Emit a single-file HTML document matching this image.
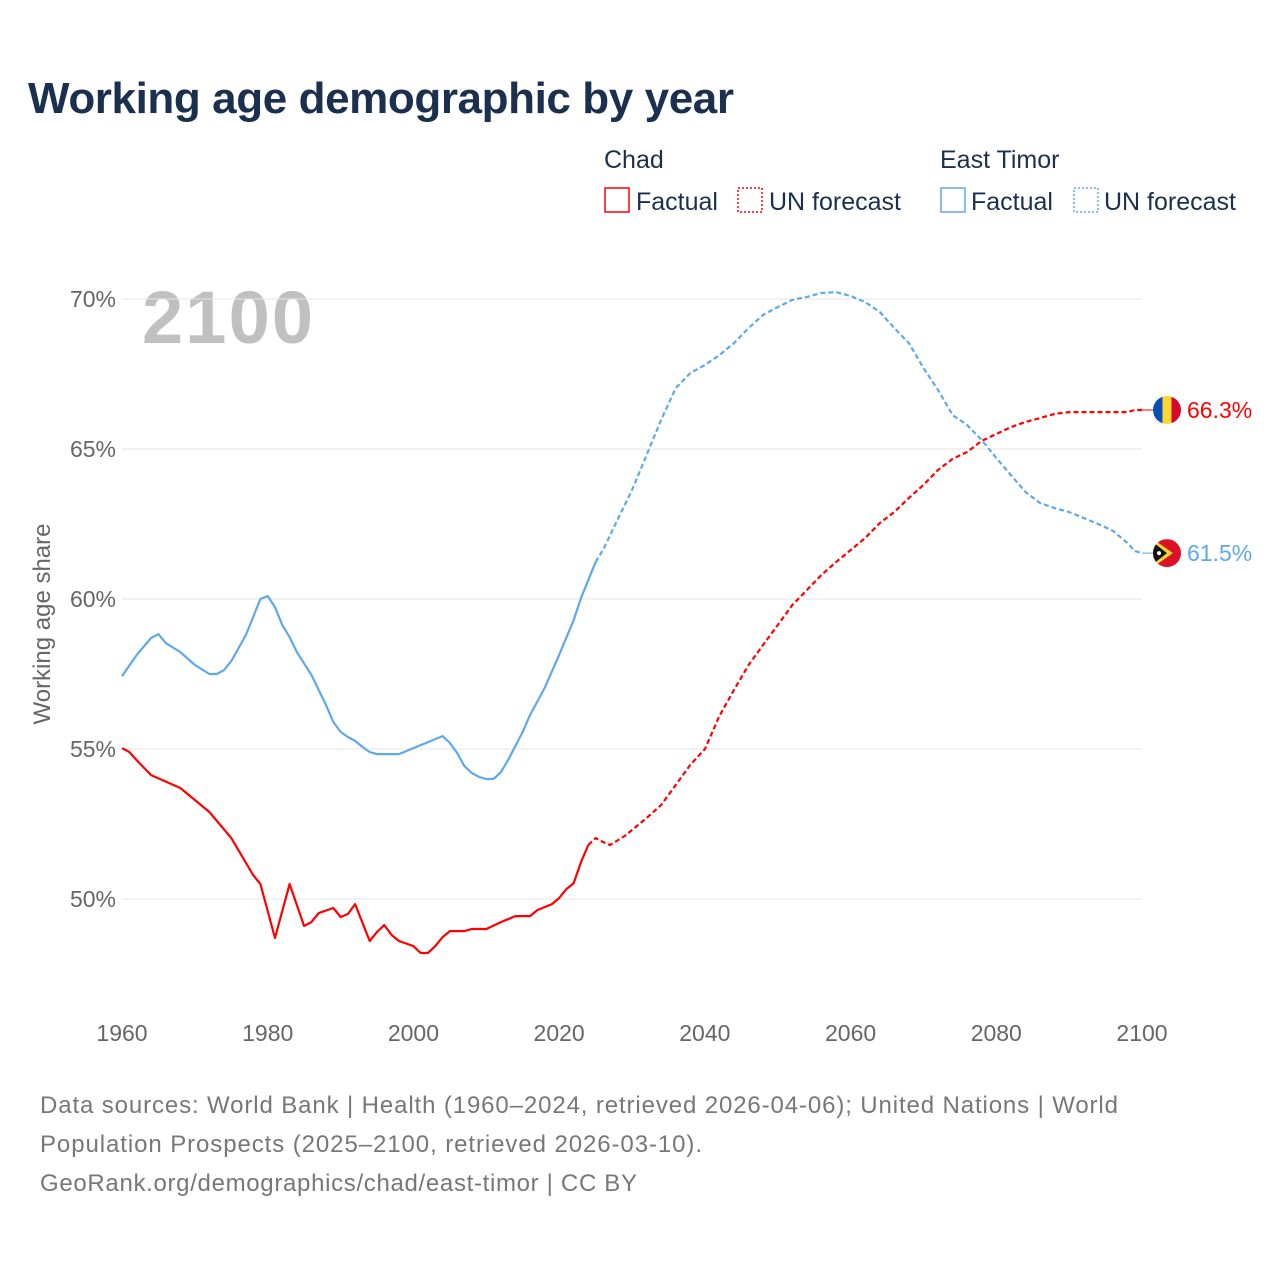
<!DOCTYPE html>
<html><head><meta charset="utf-8"><style>
body{margin:0;background:#fff;font-family:"Liberation Sans",sans-serif;}
svg{display:block}
</style></head><body>
<svg id="chart" width="1280" height="1280" viewBox="0 0 1280 1280">
<defs>
<clipPath id="cf"><circle cx="1167" cy="410" r="14"/></clipPath>
<clipPath id="tf"><circle cx="1167" cy="554" r="14"/></clipPath>
</defs>
<text x="28" y="113" font-size="44" font-weight="bold" fill="#1b2f4e" textLength="706">Working age demographic by year</text>
<g font-size="25" fill="#1b2f4e">
<text x="604" y="168">Chad</text>
<rect x="605" y="188" width="24" height="24" fill="none" stroke="#f00" stroke-width="1.5"/>
<text x="636" y="210">Factual</text>
<rect x="738" y="188" width="24" height="24" fill="none" stroke="#f00" stroke-width="1.5" stroke-dasharray="2,2"/>
<text x="769" y="210">UN forecast</text>
<text x="940" y="168">East Timor</text>
<rect x="941" y="188" width="24" height="24" fill="none" stroke="#5ea8ec" stroke-width="1.5"/>
<text x="971" y="210">Factual</text>
<rect x="1074" y="188" width="24" height="24" fill="none" stroke="#5ea8ec" stroke-width="1.5" stroke-dasharray="2,2"/>
<text x="1104" y="210">UN forecast</text>
</g>
<text x="142" y="343" font-size="74" font-weight="bold" fill="#c0c0c0" textLength="171">2100</text>
<text transform="translate(50,624) rotate(-90)" text-anchor="middle" font-size="24" fill="#666">Working age share</text>
<g id="grid"></g><g id="lines"></g>
<g font-size="24" fill="#777">
<text x="40" y="1113" textLength="1078">Data sources: World Bank | Health (1960–2024, retrieved 2026-04-06); United Nations | World</text>
<text x="40" y="1152" textLength="662">Population Prospects (2025–2100, retrieved 2026-03-10).</text>
<text x="40" y="1191" textLength="597">GeoRank.org/demographics/chad/east-timor | CC BY</text>
</g>
</svg>
<script>
const yTicks=[50,55,60,65,70];
const xTicks=[1960,1980,2000,2020,2040,2060,2080,2100];
const chadFactYears=[1960,1961,1962,1964,1968,1972,1975,1978,1979,1981,1983,1985,1986,1987,1989,1990,1991,1992,1994,1995,1996,1997,1998,2000,2001,2002,2003,2004,2005,2007,2008,2010,2012,2014,2016,2017,2019,2020,2021,2022,2023,2024];
const chadFactVals=[55.03,54.9,54.63,54.13,53.7,52.9,52.03,50.8,50.5,48.7,50.5,49.1,49.23,49.53,49.7,49.4,49.5,49.83,48.6,48.9,49.13,48.8,48.6,48.43,48.2,48.2,48.43,48.73,48.93,48.93,49.0,49.0,49.23,49.43,49.43,49.63,49.83,50.03,50.33,50.53,51.23,51.8];
const chadFcYears=[2024,2025,2026,2027,2028,2029,2030,2032,2034,2036,2038,2040,2042,2044,2046,2048,2050,2052,2054,2056,2058,2060,2062,2064,2066,2068,2070,2072,2074,2076,2078,2080,2082,2084,2086,2088,2090,2095,2098,2099,2100];
const chadFcVals=[51.8,52.03,51.9,51.8,51.95,52.1,52.3,52.7,53.13,53.8,54.47,55.0,56.1,56.97,57.8,58.47,59.13,59.8,60.3,60.8,61.23,61.63,62.03,62.53,62.9,63.37,63.8,64.3,64.67,64.9,65.27,65.5,65.73,65.9,66.03,66.17,66.23,66.23,66.23,66.3,66.3];
const timorFactYears=[1960,1962,1964,1965,1966,1968,1970,1972,1973,1974,1975,1977,1979,1980,1981,1982,1983,1984,1986,1988,1989,1990,1991,1992,1993,1994,1995,1998,2000,2004,2005,2006,2007,2008,2009,2010,2011,2012,2013,2015,2016,2018,2020,2022,2023,2024,2025];
const timorFactVals=[57.43,58.13,58.7,58.83,58.53,58.23,57.8,57.5,57.5,57.63,57.93,58.8,60.0,60.1,59.73,59.13,58.73,58.23,57.47,56.47,55.9,55.57,55.4,55.27,55.07,54.9,54.83,54.83,55.03,55.43,55.2,54.87,54.43,54.2,54.07,54.0,54.0,54.23,54.63,55.57,56.13,57.03,58.13,59.3,60.03,60.63,61.23];
const timorFcYears=[2025,2026,2028,2030,2032,2034,2036,2038,2040,2042,2044,2046,2048,2050,2052,2054,2056,2058,2060,2062,2064,2066,2068,2070,2072,2074,2076,2078,2080,2082,2084,2086,2088,2090,2092,2094,2096,2098,2099,2100];
const timorFcVals=[61.23,61.63,62.63,63.63,64.8,65.97,67.03,67.53,67.8,68.13,68.53,69.03,69.47,69.73,69.97,70.07,70.2,70.23,70.1,69.9,69.57,69.03,68.53,67.7,66.97,66.13,65.8,65.3,64.7,64.13,63.57,63.2,63.03,62.9,62.7,62.5,62.27,61.87,61.6,61.53];

const NS='http://www.w3.org/2000/svg';
const X=y=>122+(y-1960)*(1020/140);
const Y=v=>299+(70-v)*30;
function mk(tag,attrs,parent){const e=document.createElementNS(NS,tag);for(const k in attrs)e.setAttribute(k,attrs[k]);parent.appendChild(e);return e;}
const grid=document.getElementById('grid'),lines=document.getElementById('lines');
yTicks.forEach(v=>{
  const l=mk('line',{x1:122,x2:1142,y1:Y(v),y2:Y(v),stroke:'#e6e6e6','stroke-width':1},grid);
  
  
  const t=mk('text',{x:116,y:Y(v)+8,'text-anchor':'end','font-size':23,fill:'#666'},grid);
  t.textContent=v+'%';
  
  
});
xTicks.forEach(v=>{
  const t=mk('text',{x:X(v),y:1041,'text-anchor':'middle','font-size':23,fill:'#666'},grid);
  t.textContent=v;
  
  
});
function line(ys,vs,color,dash,name){
  const d=ys.map((y,i)=>(i?'L':'M')+X(y).toFixed(1)+','+Y(vs[i]).toFixed(1)).join('');
  const p=mk('path',{d:d,fill:'none',stroke:color,'stroke-width':2.2,'stroke-linejoin':'round'},lines);
  if(dash)p.setAttribute('stroke-dasharray','5,3');
  
  
}
line(chadFactYears,chadFactVals,'#ff0000',false,'chad-factual-line');
line(chadFcYears,chadFcVals,'#ff0000',true,'chad-forecast-line');
line(timorFactYears,timorFactVals,'#5ea8ec',false,'timor-factual-line');
line(timorFcYears,timorFcVals,'#5ea8ec',true,'timor-forecast-line');
function endLabel(v,color,name,flag){
  const y=Y(v);
  const c=mk('line',{x1:1142,x2:1155,y1:y,y2:y,stroke:color,'stroke-width':1},lines);
  
  
  const g=mk('g',{},lines);
  
  
  flag(g,1167,y);
  const t=mk('text',{x:1187,y:y+8,'font-size':23,fill:color},lines);
  t.textContent=v.toFixed(1)+'%';
  
  
}
endLabel(chadFcVals[chadFcVals.length-1],'#ff0000','chad',(g,cx,cy)=>{
  document.querySelector('#cf circle').setAttribute('cy',cy);
  const s=mk('g',{'clip-path':'url(#cf)'},g);
  mk('rect',{x:cx-14,y:cy-14,width:10,height:28,fill:'#0a4fb5'},s);
  mk('rect',{x:cx-4.5,y:cy-14,width:9,height:28,fill:'#fed531'},s);
  mk('rect',{x:cx+4.5,y:cy-14,width:10,height:28,fill:'#d7062c'},s);
});
endLabel(timorFcVals[timorFcVals.length-1],'#5ea8ec','timor',(g,cx,cy)=>{
  document.querySelector('#tf circle').setAttribute('cy',cy);
  const s=mk('g',{'clip-path':'url(#tf)'},g);
  mk('rect',{x:cx-14,y:cy-14,width:28,height:28,fill:'#dc1127'},s);
  mk('path',{d:`M${cx-14},${cy-14}L${cx+6},${cy}L${cx-14},${cy+14}Z`,fill:'#fed531'},s);
  mk('path',{d:`M${cx-14},${cy-11}L${cx},${cy}L${cx-14},${cy+11}Z`,fill:'#111'},s);
  mk('circle',{cx:cx-8,cy:cy,r:2,fill:'#fff'},s);
});
</script>
</body></html>
